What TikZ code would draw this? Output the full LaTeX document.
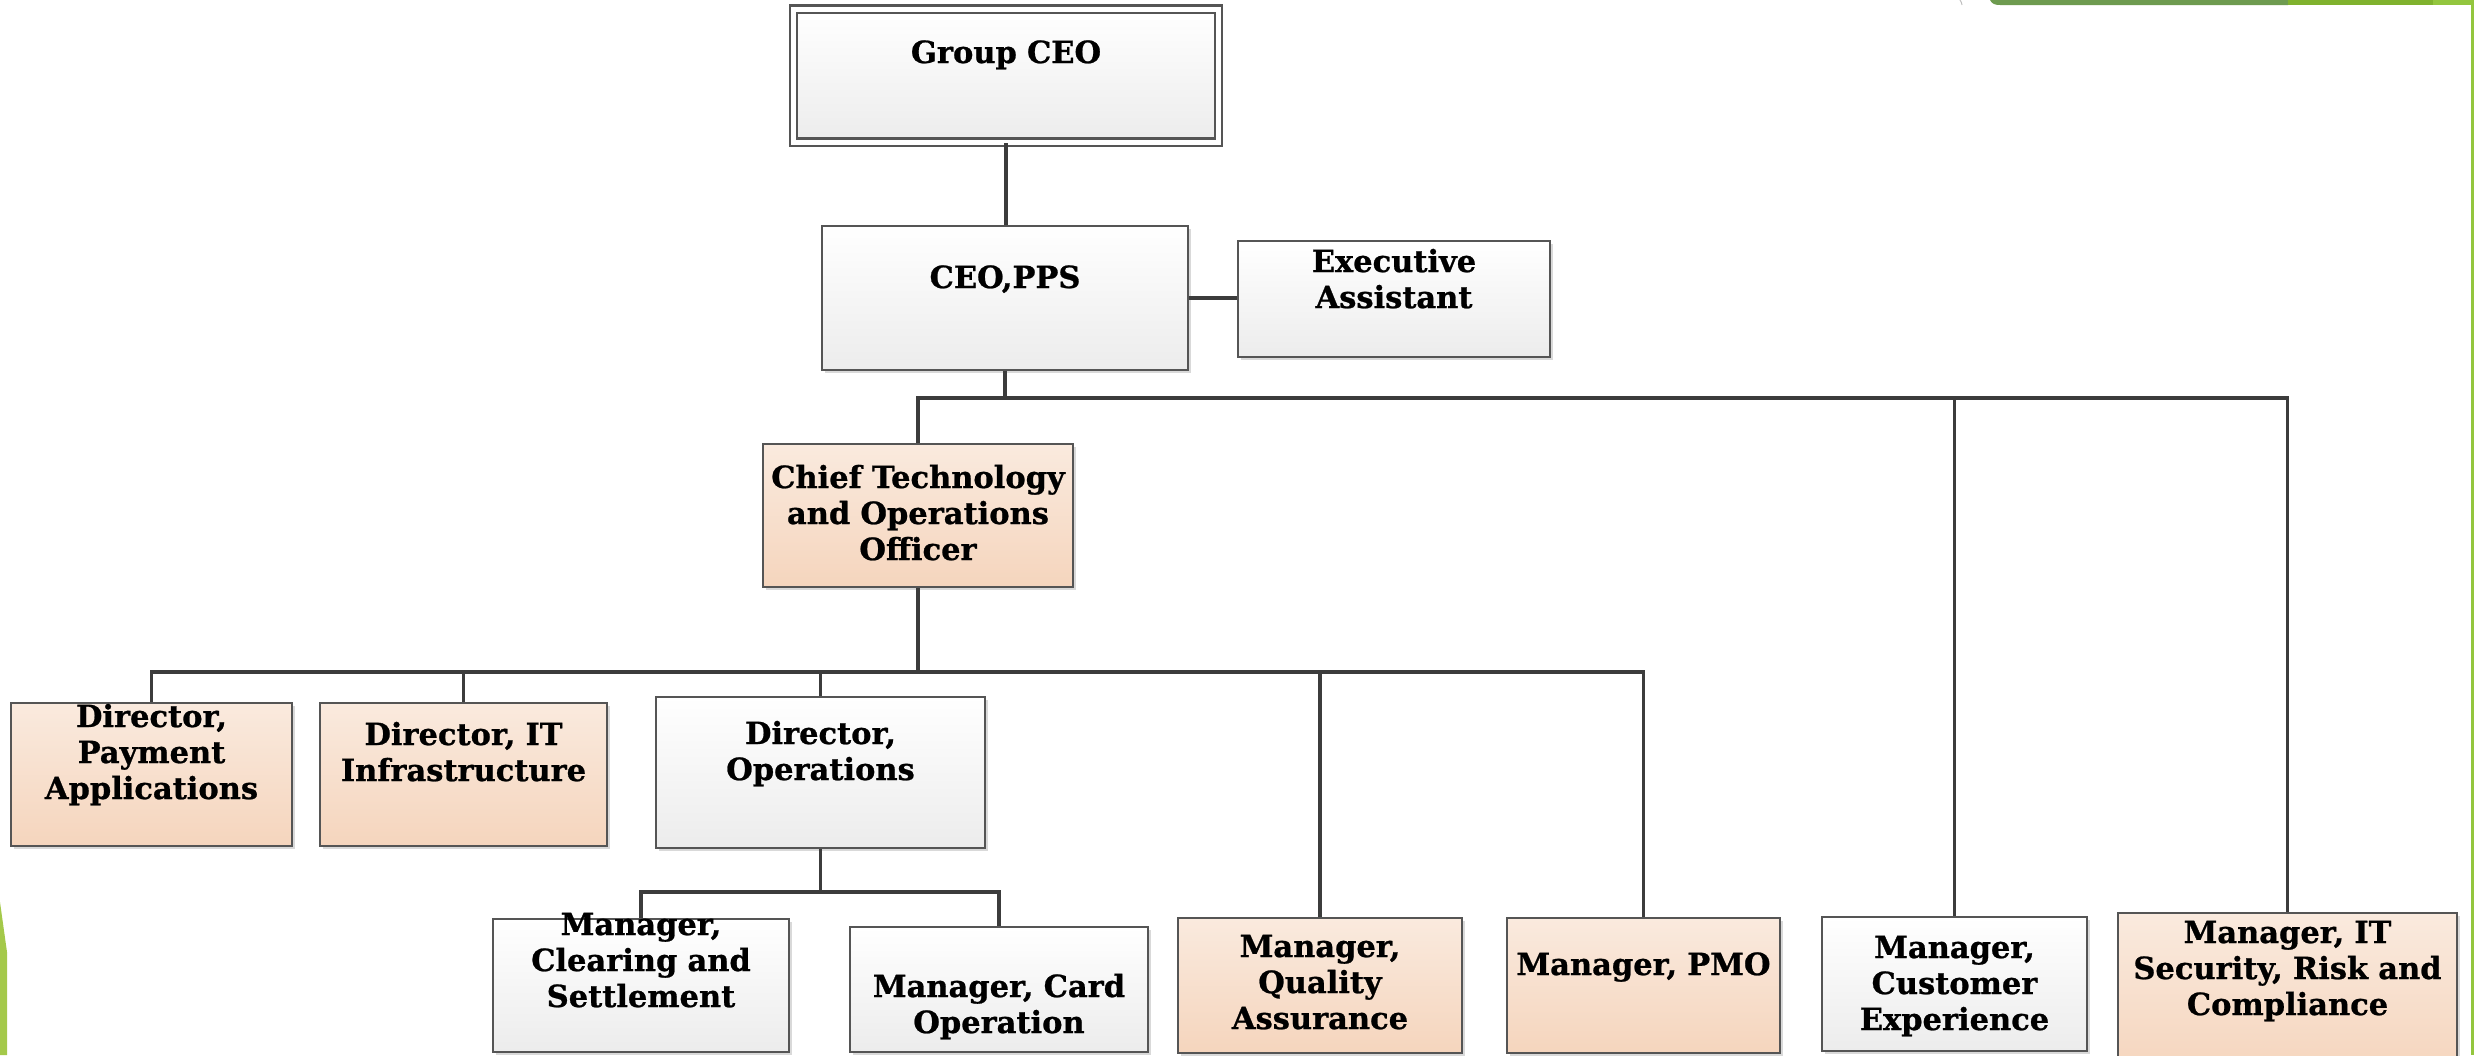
\documentclass[tikz,border=0pt]{standalone}
\usepackage{fontspec}
\setmainfont{DejaVu Serif}[BoldFeatures={FakeBold=0.8}]
\usetikzlibrary{shadows}
\definecolor{peachtop}{RGB}{250,234,222}
\definecolor{peachbot}{RGB}{245,213,189}
\definecolor{graybot}{RGB}{236,236,236}
\definecolor{edgec}{RGB}{85,85,85}
\definecolor{connc}{RGB}{60,60,60}
\definecolor{greenA}{RGB}{110,155,80}
\definecolor{greenB}{RGB}{128,178,46}
\definecolor{greenC}{RGB}{147,198,62}
\definecolor{greenL}{RGB}{164,201,74}
\begin{document}
\begin{tikzpicture}[x=1pt,y=-1pt,
  boxbase/.style={rectangle, draw=edgec, line width=2.2pt, inner sep=0pt,
    drop shadow={shadow xshift=3pt, shadow yshift=-3pt, opacity=0.3, fill=black!50}},
  graybox/.style={boxbase, top color=white, bottom color=graybot},
  peachbox/.style={boxbase, top color=peachtop, bottom color=peachbot},
  lbl/.style={anchor=base, align=center, inner sep=0pt,
    font=\fontsize{30.5}{36}\selectfont\bfseries},
  connl/.style={draw=connc, line width=3.3pt, line join=miter}
]
\useasboundingbox (0,0) rectangle (2474,1055);
\clip (0,0) rectangle (2474,1055);

% decorations
\fill[greenA] (1990,0) .. controls (1992,4) and (1995,5) .. (2000,5) -- (2288,5) -- (2288,0) -- cycle;
\fill[greenB] (2288,0) rectangle (2433,5);
\fill[greenC] (2433,0) rectangle (2474,5);
\fill[greenC] (2471,0) rectangle (2474,1055);
\fill[greenL] (0,902) -- (7,952) -- (7,1055) -- (0,1055) -- cycle;
\draw[gray!50, line width=1pt] (1960,0) .. controls (1961,2) and (1962,3) .. (1962,5);

% boxes
\node[graybox, double=white, double distance=5pt, minimum width=425, minimum height=133] (gceo) at (1006,75.5) {};
\node[lbl, text width=400] (gceo-t) at (1006,63) {Group CEO};

\node[graybox, minimum width=366, minimum height=144] (ceo) at (1005,298) {};
\node[lbl, text width=340] (ceo-t) at (1005,288) {CEO,PPS};

\node[graybox, minimum width=312, minimum height=116] (ea) at (1394,299) {};
\node[lbl, text width=300] (ea-t) at (1394,272) {Executive\\Assistant};

\node[peachbox, minimum width=310, minimum height=143] (cto) at (918,515.5) {};
\node[lbl, text width=330] (cto-t) at (918,488) {Chief Technology\\and Operations\\Officer};

\node[peachbox, minimum width=281, minimum height=143] (dpa) at (151.5,774.5) {};
\node[lbl, text width=300] (dpa-t) at (151.5,727) {Director,\\Payment\\Applications};

\node[peachbox, minimum width=287, minimum height=143] (dit) at (463.5,774.5) {};
\node[lbl, text width=300] (dit-t) at (463.5,745) {Director, IT\\Infrastructure};

\node[graybox, minimum width=329, minimum height=151] (dops) at (820.5,772.5) {};
\node[lbl, text width=320] (dops-t) at (820.5,744) {Director,\\Operations};

\node[graybox, minimum width=296, minimum height=133] (mcs) at (641,985.5) {};
\node[lbl, text width=310] (mcs-t) at (641,935) {Manager,\\Clearing and\\Settlement};

\node[graybox, minimum width=298, minimum height=125] (mco) at (999,989.5) {};
\node[lbl, text width=310] (mco-t) at (999,997) {Manager, Card\\Operation};

\node[peachbox, minimum width=284, minimum height=135] (mqa) at (1320,985.5) {};
\node[lbl, text width=300] (mqa-t) at (1320,957) {Manager,\\Quality\\Assurance};

\node[peachbox, minimum width=273, minimum height=135] (pmo) at (1643.5,985.5) {};
\node[lbl, text width=300] (pmo-t) at (1643.5,975) {Manager, PMO};

\node[graybox, minimum width=265, minimum height=134] (mcx) at (1954.5,984) {};
\node[lbl, text width=290] (mcx-t) at (1954.5,958) {Manager,\\Customer\\Experience};

\node[peachbox, minimum width=339, minimum height=162] (its) at (2287.5,994) {};
\node[lbl, text width=350] (its-t) at (2287.5,943) {Manager, IT\\Security, Risk and\\Compliance};

% connectors
\coordinate (busA) at (0,398);
\coordinate (busB) at (0,672);
\coordinate (busC) at (0,892);
\draw[connl] (gceo.south) -- (gceo.south |- ceo.north);
\draw[connl] (ceo.east) -- (ceo.east -| ea.west);
\draw[connl] (ceo.south) |- (busA -| cto.north) -- (cto.north);
\draw[connl] (ceo.south) |- (busA -| its.north) -- (its.north);
\draw[connl] (mcx.north) -- (busA -| mcx.north);
\draw[connl] (cto.south) |- (busB -| dpa.north) -- (dpa.north);
\draw[connl] (cto.south) |- (busB -| pmo.north) -- (pmo.north);
\draw[connl] (dit.north) -- (busB -| dit.north);
\draw[connl] (dops.north) -- (busB -| dops.north);
\draw[connl] (mqa.north) -- (busB -| mqa.north);
\draw[connl] (dops.south) |- (busC -| mcs.north) -- (mcs.north);
\draw[connl] (dops.south) |- (busC -| mco.north) -- (mco.north);
\end{tikzpicture}
\end{document}
